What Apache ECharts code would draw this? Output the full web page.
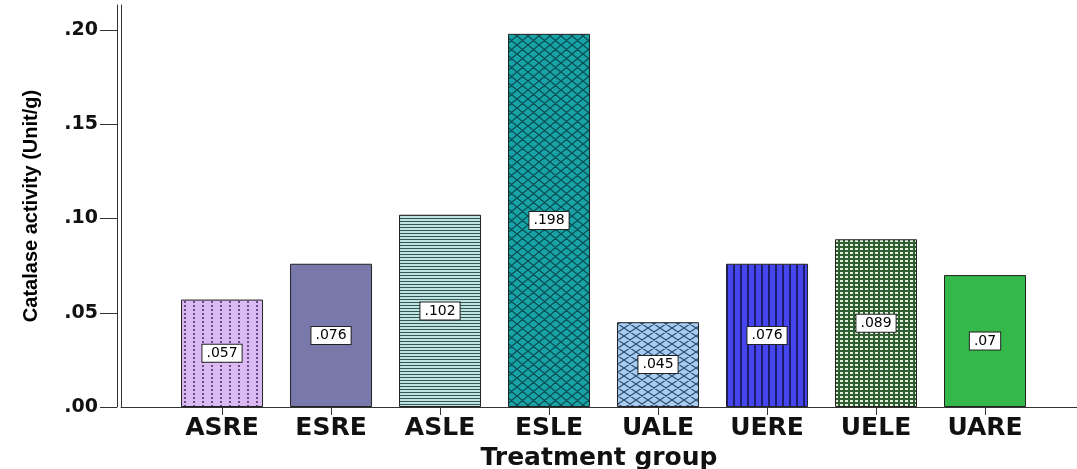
<!DOCTYPE html>
<html><head><meta charset="utf-8">
<script src="https://cdn.jsdelivr.net/npm/echarts@6/dist/echarts.min.js"></script>
<style>html,body{margin:0;padding:0;background:#fff}#chart{width:1077px;height:469px}</style>
</head><body><div id="chart"></div>
<script>
const categories = ['ASRE','ESRE','ASLE','ESLE','UALE','UERE','UELE','UARE'];
const values = [0.057, 0.076, 0.102, 0.198, 0.045, 0.076, 0.089, 0.070];
const yTicks = [0, 0.05, 0.10, 0.15, 0.20];
const yTickLabels = ['.00', '.05', '.10', '.15', '.20'];
const xAxisTitle = 'Treatment group';
const yAxisTitle = 'Catalase activity (Unit/g)';

function tile(w, h, draw) {
  const c = document.createElement('canvas');
  c.width = w; c.height = h;
  const g = c.getContext('2d');
  draw(g, w, h);
  return c;
}
function lattice(bg, fg, lw) {
  return (g, w, h) => {
    g.fillStyle = bg; g.fillRect(0, 0, w, h);
    g.strokeStyle = fg; g.lineWidth = lw; g.beginPath();
    for (let k = -1; k <= 1; k++) {
      g.moveTo(-w, -h + k * h); g.lineTo(2 * w, 2 * h + k * h);
      g.moveTo(-w, 2 * h + k * h); g.lineTo(2 * w, -h + k * h);
    }
    g.stroke();
  };
}
const fills = [
  { image: tile(9, 4, (g, w, h) => { g.fillStyle = '#dbb9f3'; g.fillRect(0, 0, w, h); g.fillStyle = '#6a4a8a'; g.fillRect(4, 1, 2, 2); }), repeat: 'repeat' },
  '#7878aa',
  { image: tile(1, 3, (g, w, h) => { g.fillStyle = '#c2e2e0'; g.fillRect(0, 0, w, h); g.fillStyle = '#2f5a5c'; g.fillRect(0, 2, 1, 1); }), repeat: 'repeat' },
  { image: tile(11, 9, lattice('#18a4a6', '#0b4d55', 1.3)), repeat: 'repeat' },
  { image: tile(12, 8, lattice('#a9cdf2', '#2f4f6f', 1.2)), repeat: 'repeat' },
  { image: tile(7, 1, (g, w, h) => { g.fillStyle = '#4646ee'; g.fillRect(0, 0, w, h); g.fillStyle = '#1c1c6a'; g.fillRect(5, 0, 2, 1); }), repeat: 'repeat' },
  { image: tile(5, 4, (g, w, h) => { g.fillStyle = '#2f5f30'; g.fillRect(0, 0, w, h); g.fillStyle = '#e4f0de'; g.fillRect(0, 0, 3, 2); }), repeat: 'repeat' },
  '#34b84a'
];

const axisColor = '#333';
const yMax = 0.2133;
const chart = echarts.init(document.getElementById('chart'), null, { renderer: 'canvas' });
chart.setOption({
  animation: false,
  backgroundColor: '#fff',
  grid: { left: 121, right: 0, top: 5, bottom: 62, containLabel: false, outerBoundsMode: 'none' },
  xAxis: {
    type: 'value', min: -0.927, max: 7.844,
    axisLine: { show: true, onZero: false, lineStyle: { color: axisColor, width: 1 } },
    axisTick: { show: true, customValues: categories.map((_, i) => i), length: 8, lineStyle: { color: axisColor } },
    axisLabel: { customValues: categories.map((_, i) => i), formatter: v => categories[Math.round(v)], margin: 9,
      fontFamily: 'DejaVu Sans', fontWeight: 'bold', fontSize: 25, color: '#111' },
    splitLine: { show: false },
    name: xAxisTitle, nameLocation: 'middle', nameGap: 35,
    nameTextStyle: { fontFamily: 'DejaVu Sans', fontWeight: 'bold', fontSize: 25, color: '#111' }
  },
  yAxis: [
    {
      type: 'value', min: 0, max: yMax, position: 'left', offset: 4,
      axisLine: { show: true, onZero: false, lineStyle: { color: axisColor, width: 1 } },
      axisTick: { show: true, customValues: yTicks, length: 17, lineStyle: { color: axisColor } },
      axisLabel: { customValues: yTicks, margin: 19, formatter: v => yTickLabels[Math.round(v / 0.05)],
        fontFamily: 'DejaVu Sans', fontWeight: 'bold', fontSize: 19, color: '#111' },
      splitLine: { show: false },
      name: yAxisTitle, nameLocation: 'middle', nameRotate: 90, nameGap: 76,
      nameTextStyle: { fontFamily: 'Liberation Sans, Arial, sans-serif', fontWeight: 'bold', fontSize: 20, color: '#000' }
    },
    {
      type: 'value', min: 0, max: yMax, position: 'left', offset: 0,
      axisLine: { show: true, onZero: false, lineStyle: { color: axisColor, width: 1 } },
      axisTick: { show: false }, axisLabel: { show: false }, splitLine: { show: false }
    }
  ],
  series: [{
    type: 'bar', yAxisIndex: 0, barWidth: 82,
    data: values.map((v, i) => ({ value: [i, v], itemStyle: { color: fills[i] } })),
    itemStyle: { borderColor: '#222', borderWidth: 1 },
    label: {
      show: true, position: 'inside',
      formatter: p => String(p.value[1]).replace(/^0/, ''),
      fontFamily: 'DejaVu Sans', fontSize: 14, color: '#000',
      backgroundColor: '#fff', borderColor: '#222', borderWidth: 1, padding: [2, 4, 1, 4]
    }
  }]
});
</script></body></html>
